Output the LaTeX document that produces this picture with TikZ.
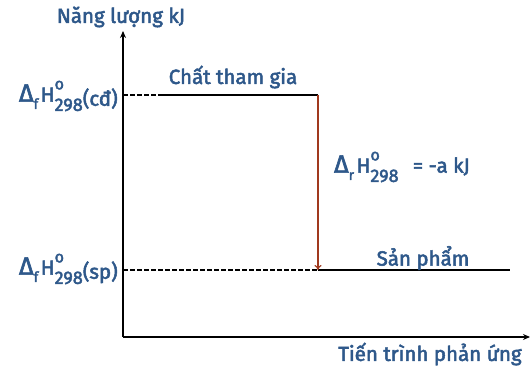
\documentclass[tikz,border=0pt]{standalone}
\usepackage{fontspec}
\setmainfont{Fira Sans}
\newfontfamily\lblfont{Fira Sans}[FakeBold=2.5]
\usepackage{tikz}
\usetikzlibrary{arrows.meta}
\definecolor{txtblue}{RGB}{46,88,138}
\definecolor{arrred}{RGB}{160,57,30}
\newcommand{\enth}[2]{{\fontsize{25}{25}\selectfont Δ}\raisebox{-0.35em}{\fontsize{14}{14}\selectfont #1}\hspace{0.12em}H\raisebox{0.6em}{\rlap{\fontsize{16}{16}\selectfont o}}\raisebox{-0.45em}{\fontsize{18}{18}\selectfont 298}#2}
\tikzset{
  lbl/.style={text=txtblue, font=\lblfont\fontsize{20.5}{24}\selectfont, inner sep=0pt},
  axis/.style={line width=1.6pt, -{Stealth[length=7pt,width=6pt]}},
  level/.style={line width=1.6pt},
  guide/.style={line width=1.3pt, dash pattern=on 4.5pt off 2.5pt},
}
\begin{document}
\begin{tikzpicture}[x=1pt,y=-1pt]
\useasboundingbox (0,0) rectangle (531,367);
% axes
\coordinate (O) at (123,337);
\coordinate (ytip) at (123,31);
\coordinate (xtip) at (530,337);
\draw[axis] (O) -- (ytip);
\draw[axis] (O) -- (xtip);
\node[lbl] (ylab) at (121,17) {Năng lượng kJ};
\node[lbl] (xlab) at (430,354) {Tiến trình phản ứng};

% energy levels
\coordinate (r0) at (123,95);
\coordinate (rm) at (160,95);
\coordinate (r1) at (318,95);
\coordinate (p0) at (123,270);
\coordinate (p1) at (318,270);
\coordinate (p2) at (510,270);
\draw[guide] (r0) -- (rm);
\draw[level] (rm) -- (r1);
\draw[guide] (p0) -- (p1);
\draw[level] (p1) -- (p2);
\node[lbl] (react) at (233,77) {Chất tham gia};
\node[lbl] (prod) at (423,258) {Sản phẩm};

% levels on the y axis
\node[lbl, anchor=east] (hr) at (118,96) {\enth{f}{\raisebox{-0.2em}{(cđ)}}};
\node[lbl, anchor=east] (hp) at (118,269) {\enth{f}{\raisebox{-0.2em}{(sp)}}};

% enthalpy change
\draw[line width=1.2pt, arrred, -{To[length=5pt,width=7pt]}] (r1) -- (p1);
\node[lbl] (dh) at (402,167) {\enth{r}{\hspace{0.7em}= -a kJ}};
\end{tikzpicture}
\end{document}
